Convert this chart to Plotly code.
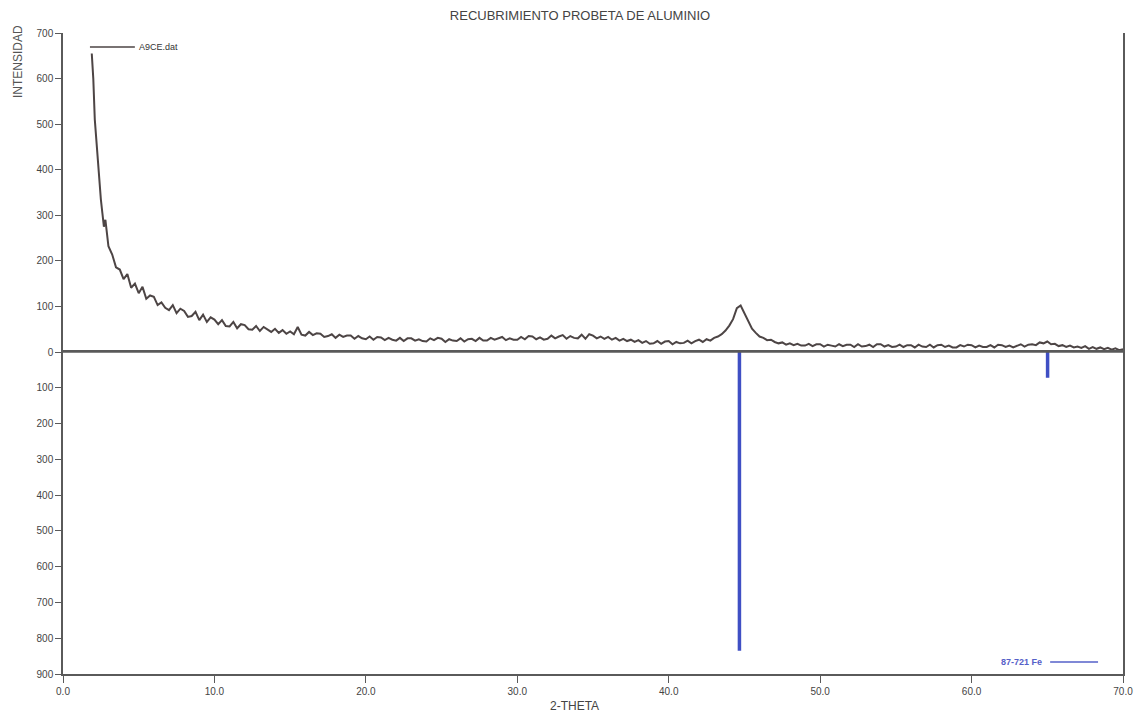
import numpy as np
import plotly.graph_objects as go

# ---------------- data ----------------
# steep start, 2-theta 1.9 .. 2.9 (step 0.1)
theta_start = [1.9, 2.0, 2.1, 2.2, 2.3, 2.4, 2.5, 2.6, 2.7, 2.8, 2.9]
counts_start = [655, 600, 510, 465, 405, 370, 335, 305, 275, 290, 252]

# main scan, 2-theta 3.0 .. 70.0 (step 0.25), one row per degree
counts_main = [
    232, 214, 186, 181,   # 3
    160, 171, 141, 150,   # 4
    129, 143, 117, 124,   # 5
    121, 103, 109, 97,    # 6
    92, 103, 85, 95,      # 7
    90, 77, 79, 88,       # 8
    70, 82, 66, 76,       # 9
    71, 61, 70, 57,       # 10
    56, 66, 52, 61,       # 11
    59, 50, 49, 57,       # 12
    46, 55, 50, 44,       # 13
    51, 42, 48, 40,       # 14
    45, 39, 55, 38,       # 15
    36, 44, 37, 41,       # 16
    40, 33, 35, 39,       # 17
    31, 38, 33, 36,       # 18
    36, 29, 35, 30,       # 19
    28, 34, 27, 33,       # 20
    32, 26, 31, 27,       # 21
    25, 31, 24, 30,       # 22
    30, 25, 28, 24,       # 23
    23, 30, 26, 31,       # 24
    29, 22, 28, 25,       # 25
    24, 30, 23, 28,       # 26
    29, 24, 31, 25,       # 27
    25, 31, 27, 30,       # 28
    33, 26, 30, 27,       # 29
    27, 33, 28, 35,       # 30
    34, 28, 32, 27,       # 31
    29, 36, 30, 34,       # 32
    37, 29, 35, 31,       # 33
    30, 38, 29, 39,       # 34
    36, 30, 34, 29,       # 35
    33, 27, 31, 25,       # 36
    29, 24, 27, 22,       # 37
    26, 20, 24, 18,       # 38
    19, 24, 18, 23,       # 39
    24, 17, 22, 19,       # 40
    20, 25, 19, 24,       # 41
    27, 22, 28, 25,       # 42
    31, 34, 39, 47,       # 43
    58, 72, 96, 102,      # 44
    84, 67, 51, 42,       # 45
    34, 31, 26, 27,       # 46
    22, 19, 21, 16,       # 47
    19, 15, 18, 14,       # 48
    14, 18, 13, 17,       # 49
    17, 12, 16, 14,       # 50
    12, 17, 13, 16,       # 51
    16, 11, 17, 12,       # 52
    13, 16, 11, 17,       # 53
    17, 12, 15, 11,       # 54
    12, 16, 11, 15,       # 55
    15, 10, 16, 12,       # 56
    11, 16, 10, 15,       # 57
    16, 11, 14, 10,       # 58
    10, 15, 12, 16,       # 59
    15, 10, 14, 11,       # 60
    11, 15, 10, 16,       # 61
    15, 11, 14, 10,       # 62
    13, 17, 12, 16,       # 63
    17, 15, 21, 19,       # 64
    23, 17, 18, 13,       # 65
    15, 11, 14, 10,       # 66
    12, 9, 13, 7,         # 67
    11, 7, 10, 6,         # 68
    9, 5, 8, 4,           # 69
    6,                    # 70
]
theta_main_first = 3.0
theta_main_step = 0.25

# reference pattern 87-721 Fe (drawn downward)
ref_theta = [44.67, 65.02]
ref_intensity = [835, 72]

top_ticks = [0, 100, 200, 300, 400, 500, 600, 700]
bottom_ticks = [100, 200, 300, 400, 500, 600, 700, 800, 900]
x_ticks = [0, 10, 20, 30, 40, 50, 60, 70]

# ---------------- build ----------------
theta_main = [round(theta_main_first + theta_main_step * i, 2) for i in range(len(counts_main))]
theta = theta_start + theta_main
counts = counts_start + counts_main

stick_x, stick_y = [], []
for t, v in zip(ref_theta, ref_intensity):
    stick_x += [t, t, None]
    stick_y += [0, v, None]

W, H = 1145, 719
L, R, T, B = 63, 20, 33, 45
plot_h = H - T - B
split = (674 - 352) / plot_h

FONT = "Liberation Sans, Arial, sans-serif"
AXC = "#5a5a5a"
LINEC = "#4d4545"
BLUE = "#3f4fc4"

fig = go.Figure()
fig.add_trace(go.Scatter(x=theta, y=counts, mode="lines",
                         line=dict(color=LINEC, width=2),
                         xaxis="x", yaxis="y", showlegend=False, name="A9CE.dat"))
fig.add_trace(go.Scatter(x=stick_x, y=stick_y, mode="lines",
                         line=dict(color=BLUE, width=3.5),
                         xaxis="x", yaxis="y2", showlegend=False, name="87-721 Fe"))

tickfont = dict(family=FONT, size=10, color="#444444")
fig.update_layout(
    width=W, height=H,
    margin=dict(l=L, r=R, t=T, b=B),
    paper_bgcolor="white", plot_bgcolor="white",
    title=dict(text="RECUBRIMIENTO PROBETA DE ALUMINIO",
               x=580 / W, xanchor="center", y=1 - 15 / H, yanchor="middle",
               font=dict(family=FONT, size=13, color="#444444")),
    xaxis=dict(range=[0, 70], tickvals=x_ticks, tickformat=".1f",
               ticks="outside", ticklen=7, tickcolor=AXC, tickwidth=1.3,
               showline=True, linecolor=AXC, linewidth=1.5, mirror=True,
               showgrid=False, zeroline=False, anchor="y2",
               tickfont=tickfont),
    yaxis=dict(domain=[split, 1], range=[0, 700], tickvals=top_ticks,
               ticks="outside", ticklen=6, tickcolor=AXC, tickwidth=1.3,
               showline=True, linecolor=AXC, linewidth=1.5, mirror=True,
               showgrid=False, zeroline=False, anchor="x",
               tickfont=tickfont),
    yaxis2=dict(domain=[0, split], range=[900, 0], tickvals=bottom_ticks,
                ticks="outside", ticklen=6, tickcolor=AXC, tickwidth=1.3,
                showline=True, linecolor=AXC, linewidth=1.5, mirror=True,
                showgrid=False, zeroline=False, anchor="x",
                tickfont=tickfont),
)

# zero line across plot
fig.add_shape(type="line", xref="paper", yref="paper", x0=0, x1=1,
              y0=split, y1=split, line=dict(color=AXC, width=1.6))

# legends as text + sample line
def px(xp):
    return (xp - L) / (W - L - R)

def py(yp):
    return (H - B - yp) / plot_h

fig.add_shape(type="line", xref="paper", yref="paper", x0=px(90), x1=px(135),
              y0=py(47), y1=py(47), line=dict(color=LINEC, width=1.5))
fig.add_annotation(xref="paper", yref="paper", x=px(137), y=py(47), xanchor="left",
                   yanchor="middle", text="A9CE.dat", showarrow=False,
                   font=dict(family=FONT, size=9, color="#333333"))
fig.add_annotation(xref="paper", yref="paper", x=px(1046), y=py(662), xanchor="right",
                   yanchor="middle", text="<b>87-721 Fe</b>", showarrow=False,
                   font=dict(family=FONT, size=9, color="#5560c8"))
fig.add_shape(type="line", xref="paper", yref="paper", x0=px(1052), x1=px(1100),
              y0=py(662), y1=py(662), line=dict(color="#5560c8", width=1.5))

# axis titles
fig.add_annotation(xref="paper", yref="paper", x=px(575), y=py(706),
                   xanchor="center", yanchor="middle", text="2-THETA", showarrow=False,
                   font=dict(family=FONT, size=12, color="#444444"))
fig.add_annotation(xref="paper", yref="paper", x=px(18), y=py(62),
                   xanchor="center", yanchor="middle", text="INTENSIDAD", textangle=-90,
                   showarrow=False, font=dict(family=FONT, size=12, color="#555555"))

fig.write_html("out.html")
